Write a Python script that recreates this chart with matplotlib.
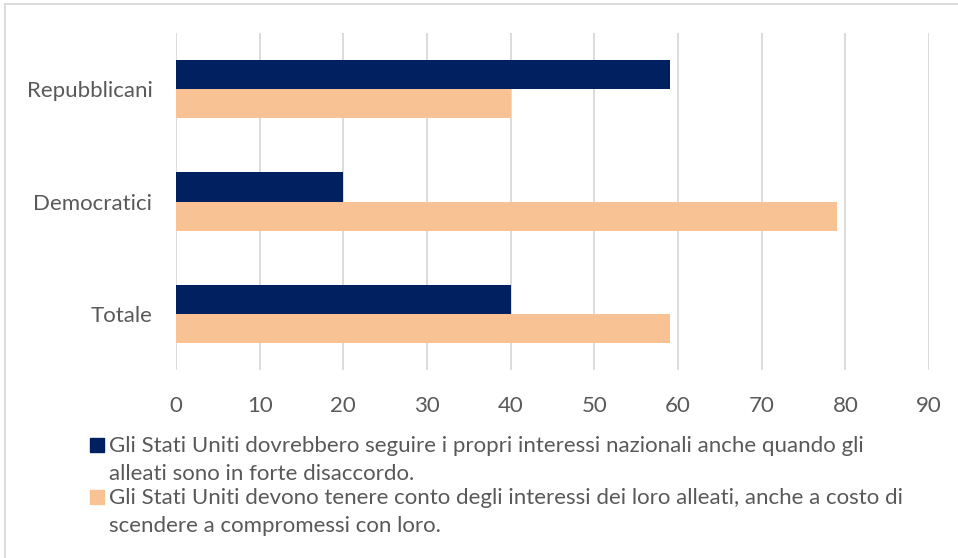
import numpy as np
import matplotlib.pyplot as plt
from matplotlib.patches import Rectangle
from matplotlib.lines import Line2D

categories = ['Totale', 'Democratici', 'Repubblicani']
interessi_nazionali = [40, 20, 59]
interessi_alleati = [59, 79, 40]
legend_labels = [
    'Gli Stati Uniti dovrebbero seguire i propri interessi nazionali anche quando gli\nalleati sono in forte disaccordo.',
    'Gli Stati Uniti devono tenere conto degli interessi dei loro alleati, anche a costo di\nscendere a compromessi con loro.',
]
x_ticks = list(range(0, 100, 10))

navy = '#002060'
peach = '#F9C294'
text_col = '#595959'
grid_col = '#D9D9D9'
font = 'Lato'

fig = plt.figure(figsize=(9.58, 5.58), dpi=100)
ax = fig.add_axes([176 / 958, 1 - 370 / 558, 753 / 958, 337 / 558])

y = np.arange(len(categories))
h = 0.26
ax.barh(y + h / 2, interessi_nazionali, height=h, color=navy, zorder=3)
ax.barh(y - h / 2, interessi_alleati, height=h, color=peach, zorder=3)

ax.set_xlim(0, 90)
ax.set_ylim(-0.5, 2.5)
ax.set_xticks(x_ticks)
ax.set_yticks(y)
ax.set_yticklabels(categories)
ax.grid(axis='x', color=grid_col, linewidth=1.3, zorder=0)
for s in ax.spines.values():
    s.set_visible(False)
ax.tick_params(length=0, labelsize=16, colors=text_col)
ax.tick_params(axis='x', pad=19)
ax.tick_params(axis='y', pad=17)
for lab in ax.get_xticklabels() + ax.get_yticklabels():
    lab.set_fontfamily(font)

# legend drawn by hand so the square sits on the first line
for i, (lab, c) in enumerate(zip(legend_labels, [navy, peach])):
    ytop = 438 + i * 52
    fig.patches.append(Rectangle((90 / 958, 1 - (ytop + 14) / 558), 14 / 958, 14 / 558,
                                 transform=fig.transFigure, color=c))
    for j, line in enumerate(lab.split('\n')):
        base = ytop + 14 + j * 28
        fig.text(109 / 958, 1 - base / 558, line, ha='left', va='baseline', fontsize=16,
                 color=text_col, family=font)

# chart area border (only top and left visible)
fig.lines.append(Line2D([5 / 958, 1], [1 - 4 / 558] * 2, transform=fig.transFigure,
                        color=grid_col, linewidth=1.3))
fig.lines.append(Line2D([5 / 958] * 2, [0, 1 - 4 / 558], transform=fig.transFigure,
                        color=grid_col, linewidth=1.3))

fig.savefig('out.png', dpi=100, facecolor='white')
